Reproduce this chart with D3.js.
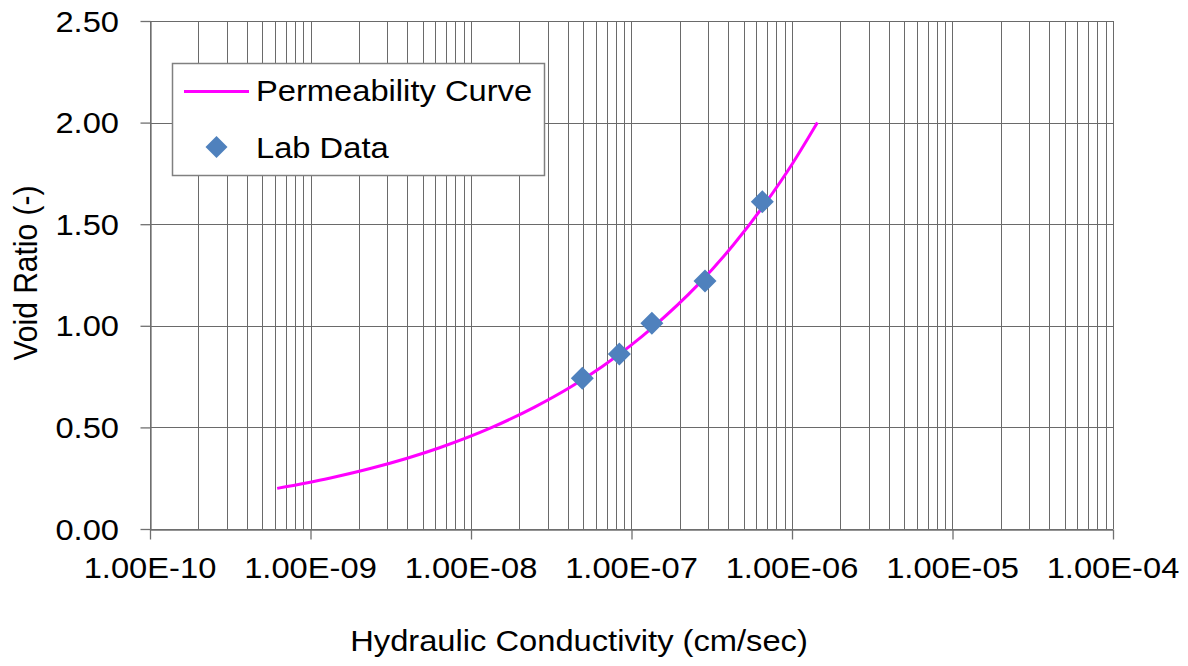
<!DOCTYPE html>
<html><head><meta charset="utf-8">
<script src="https://cdn.jsdelivr.net/npm/d3@7"></script>
<style>body{margin:0;background:#fff}svg{display:block}text{font-family:"Liberation Sans",Arial,sans-serif;fill:#000}</style>
</head><body><svg id="c" width="1188" height="666"></svg>
<script>
// Permeability curve points (k in cm/sec, void ratio)
const curveK = [6.2e-10, 1.31e-9, 2.42e-9, 6.37e-9, 1.35e-8, 2.49e-8, 4.2e-8, 6.58e-8, 9.77e-8, 1.39e-7, 2.58e-7, 4.33e-7, 6.78e-7, 1.01e-6, 1.44e-6];
const curveE = [0.20, 0.25, 0.30, 0.40, 0.50, 0.60, 0.70, 0.80, 0.90, 1.00, 1.20, 1.40, 1.60, 1.80, 2.00];
// Lab data
const labK = [4.94e-8, 8.4e-8, 1.34e-7, 2.87e-7, 6.53e-7];
const labE = [0.742, 0.861, 1.012, 1.220, 1.611];
// Axis ticks
const xTicks = [1e-10, 1e-9, 1e-8, 1e-7, 1e-6, 1e-5, 1e-4];
const xTickLabels = ["1.00E-10","1.00E-09","1.00E-08","1.00E-07","1.00E-06","1.00E-05","1.00E-04"];
const yTicks = [0, 0.5, 1.0, 1.5, 2.0, 2.5];
const yTickLabels = ["0.00","0.50","1.00","1.50","2.00","2.50"];
const seriesNames = ["Permeability Curve", "Lab Data"];

const svg = d3.select("#c");
const L = 150, R = 1113, T = 21, B = 529;
const x = d3.scaleLog().domain([1e-10, 1e-4]).range([L, R]);
const y = d3.scaleLinear().domain([0, 2.5]).range([B, T]);
const FS = 30, SX = 1.09;
const gridColor = "#6a6a6a";

// minor/major vertical grid
const minor = [];
for (let d = -10; d < -4; d++) for (let m = 1; m <= 9; m++) minor.push(m * Math.pow(10, d));
minor.push(1e-4);
svg.append("g").selectAll("line").data(minor).join("line")
  .attr("x1", d => Math.round(x(d)) + 0.5).attr("x2", d => Math.round(x(d)) + 0.5)
  .attr("y1", T).attr("y2", B).attr("stroke", gridColor).attr("stroke-width", 1);
svg.append("g").selectAll("line").data(yTicks).join("line")
  .attr("x1", L).attr("x2", R)
  .attr("y1", d => Math.round(y(d)) + 0.5).attr("y2", d => Math.round(y(d)) + 0.5)
  .attr("stroke", gridColor).attr("stroke-width", 1);

// axes
const xAxis = svg.append("g").attr("transform", `translate(0,${B + 0.5})`)
  .call(d3.axisBottom(x).tickValues(xTicks).tickFormat("").tickSizeInner(10).tickSizeOuter(0));
const yAxis = svg.append("g").attr("transform", `translate(${L + 0.5},0)`)
  .call(d3.axisLeft(y).tickValues(yTicks).tickFormat("").tickSizeInner(10).tickSizeOuter(0));
[xAxis, yAxis].forEach(g => { g.selectAll("path,line").attr("stroke", "#707070").attr("stroke-width", 1.3); });

// tick labels
svg.append("g").selectAll("text").data(xTicks).join("text")
  .attr("transform", d => `translate(${x(d)},578) scale(${SX},1)`)
  .attr("text-anchor", "middle").attr("font-size", FS)
  .text((d, i) => xTickLabels[i]);
svg.append("g").selectAll("text").data(yTicks).join("text")
  .attr("transform", d => `translate(119,${y(d) + 10.5}) scale(${SX},1)`)
  .attr("text-anchor", "end").attr("font-size", FS)
  .text((d, i) => yTickLabels[i]);

// axis titles
svg.append("text").attr("transform", `translate(579,651) scale(${SX},1)`)
  .attr("text-anchor", "middle").attr("font-size", FS).text("Hydraulic Conductivity (cm/sec)");
svg.append("text").attr("transform", `translate(37,273) rotate(-90) scale(1,${SX})`)
  .attr("text-anchor", "middle").attr("font-size", FS).text("Void Ratio (-)");

// curve
const line = d3.line().x(d => x(d[0])).y(d => y(d[1])).curve(d3.curveMonotoneX);
svg.append("path").datum(d3.zip(curveK, curveE)).attr("d", line)
  .attr("fill", "none").attr("stroke", "#ff00ff").attr("stroke-width", 3);

// diamonds
const dia = (cx, cy, r) => `M${cx},${cy - r}L${cx + r},${cy}L${cx},${cy + r}L${cx - r},${cy}Z`;
svg.append("g").selectAll("path").data(d3.zip(labK, labE)).join("path")
  .attr("d", d => dia(x(d[0]), y(d[1]), 11.5)).attr("fill", "#4f81bd");

// legend
const lg = svg.append("g");
lg.append("rect").attr("x", 172.5).attr("y", 63.5).attr("width", 372).attr("height", 112)
  .attr("fill", "#fff").attr("stroke", "#808080").attr("stroke-width", 1.5);
lg.append("line").attr("x1", 184).attr("x2", 249).attr("y1", 91.5).attr("y2", 91.5)
  .attr("stroke", "#ff00ff").attr("stroke-width", 3);
lg.append("path").attr("d", dia(216.5, 147, 11)).attr("fill", "#4f81bd");
lg.selectAll("text").data(seriesNames).join("text")
  .attr("transform", (d, i) => `translate(256,${i === 0 ? 101 : 158}) scale(${SX},1)`)
  .attr("font-size", FS).text(d => d);
</script></body></html>
